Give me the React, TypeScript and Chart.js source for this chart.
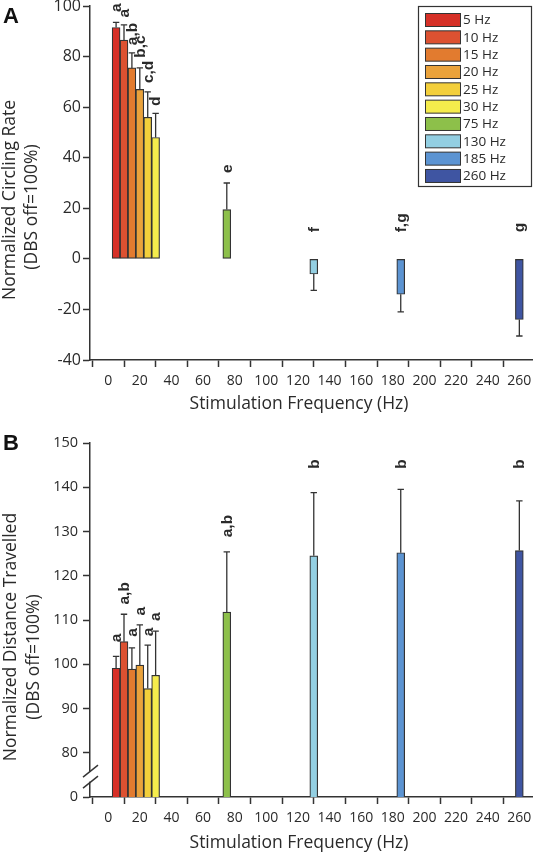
import React, { useEffect, useRef } from 'react';
import { Chart, registerables } from 'chart.js';

Chart.register(...registerables);

// ---------- data ----------
const frequencies = [5, 10, 15, 20, 25, 30, 75, 130, 185, 260];
const legendLabels = ['5 Hz', '10 Hz', '15 Hz', '20 Hz', '25 Hz', '30 Hz', '75 Hz', '130 Hz', '185 Hz', '260 Hz'];
const barColors = ['#d63027', '#dc5131', '#e27b2f', '#eaa23b', '#f3cf3b', '#f5ec4c', '#8dc04a', '#93cfe2', '#5c94d2', '#3f55a2'];

const circlingMean = [91.5, 86.5, 75.5, 67, 56, 48, 19.5, -6, -14, -24];
const circlingErrEnd = [93.5, 92.5, 81.5, 75.5, 66, 57.5, 30, -12.5, -21, -30.5];
const circlingLetters = ['a', 'a', 'a,b', 'b,c', 'c,d', 'd', 'e', 'f', 'f,g', 'g'];
const circlingLetterAt = [97.6, 95.5, 84.5, 79.5, 69.5, 60.5, 34, 10.5, 10.5, 10.5];

const distanceMean = [99.1, 105.1, 98.9, 99.8, 94.5, 97.5, 111.8, 124.5, 125.2, 125.7];
const distanceErrEnd = [101.8, 111.3, 103.7, 108.9, 104.3, 107.5, 125.4, 138.8, 139.5, 136.9];
const distanceLetters = ['a', 'a,b', 'a', 'a', 'a', 'a', 'a,b', 'b', 'b', 'b'];
const distanceLetterAt = [105, 113.5, 106.2, 111, 106.3, 109.8, 128.7, 144.2, 144.2, 144.2];

const xTickValues = [0, 20, 40, 60, 80, 100, 120, 140, 160, 180, 200, 220, 240, 260];
const circlingTickValues = [-40, -20, 0, 20, 40, 60, 80, 100];
const distanceTickValues = [70, 80, 90, 100, 110, 120, 130, 140, 150];
const distanceTickLabels = ['0', '80', '90', '100', '110', '120', '130', '140', '150'];

// ---------- styles ----------
const AXIS = '#333333';
const TEXT = '#2a2a2a';
const FONT = '"Open Sans", "DejaVu Sans", sans-serif';
const BOLD = '"Liberation Sans", Arial, sans-serif';
const W = 536;

type Spec = {
  top: number;
  height: number;
  means: number[];
  errEnd: number[];
  letters: string[];
  letterAt: number[];
  yMin: number;
  yMax: number;
  yTicks: number[];
  yTickLabels?: string[];
  yTickSize: number;
  yTickPad: number;
  yTitle: string[];
  yTitlePos: { x: number; y: number }[];
  xTitleY: number;
  panel: string;
  panelY: number;
  legend: boolean;
  axisBreak: boolean;
};

function makeDecor(spec: Spec) {
  return {
    id: 'decor' + spec.panel,
    afterDatasetsDraw(chart: any) {
      const ctx = chart.ctx as CanvasRenderingContext2D;
      const ys = chart.scales.y;
      const meta = chart.getDatasetMeta(0);
      ctx.save();
      meta.data.forEach((bar: any, i: number) => {
        const x = bar.x;
        const y0 = ys.getPixelForValue(spec.means[i]);
        const y1 = ys.getPixelForValue(spec.errEnd[i]);
        ctx.strokeStyle = AXIS;
        ctx.lineWidth = 1.3;
        ctx.beginPath();
        ctx.moveTo(x, y0);
        ctx.lineTo(x, y1);
        ctx.moveTo(x - 3.2, y1);
        ctx.lineTo(x + 3.2, y1);
        ctx.stroke();
        ctx.save();
        ctx.translate(x + 0.5, ys.getPixelForValue(spec.letterAt[i]));
        ctx.rotate(-Math.PI / 2);
        ctx.fillStyle = TEXT;
        ctx.font = 'bold 15.5px ' + BOLD;
        ctx.textAlign = 'left';
        ctx.textBaseline = 'middle';
        ctx.fillText(spec.letters[i], 0, 0);
        ctx.restore();
      });
      ctx.restore();
    },
    afterDraw(chart: any) {
      const ctx = chart.ctx as CanvasRenderingContext2D;
      const area = chart.chartArea;
      const ys = chart.scales.y;
      ctx.save();
      // axis break
      if (spec.axisBreak) {
        const yc = ys.getPixelForValue(74.6);
        const ax = area.left;
        ctx.fillStyle = '#ffffff';
        ctx.fillRect(ax - 3, yc - 5, 6, 10);
        ctx.strokeStyle = AXIS;
        ctx.lineWidth = 1.4;
        [-5.5, 5.5].forEach((d) => {
          ctx.beginPath();
          ctx.moveTo(ax - 7, yc + d + 6);
          ctx.lineTo(ax + 8, yc + d - 6);
          ctx.stroke();
        });
      }
      // y title
      ctx.fillStyle = TEXT;
      ctx.font = '17.5px ' + FONT;
      ctx.textAlign = 'center';
      ctx.textBaseline = 'middle';
      spec.yTitle.forEach((line, i) => {
        const p = spec.yTitlePos[i];
        ctx.save();
        ctx.translate(p.x, p.y);
        ctx.rotate(-Math.PI / 2);
        ctx.fillText(line, 0, 0);
        ctx.restore();
      });
      // x title
      ctx.textBaseline = 'alphabetic';
      ctx.fillText('Stimulation Frequency (Hz)', 299, spec.xTitleY);
      // panel letter
      ctx.font = 'bold 22px ' + BOLD;
      ctx.textAlign = 'left';
      ctx.fillStyle = '#111';
      ctx.fillText(spec.panel, 3, spec.panelY);
      // legend
      if (spec.legend) {
        const bx = 418.5, by = 12.5, bw = 113, bh = 180;
        ctx.strokeStyle = AXIS;
        ctx.lineWidth = 1.2;
        ctx.strokeRect(bx, by, bw, bh);
        ctx.font = '13.5px ' + FONT;
        ctx.textBaseline = 'middle';
        legendLabels.forEach((lab, i) => {
          const cy = 26 + i * 17.33;
          ctx.fillStyle = barColors[i];
          ctx.fillRect(425, cy - 6.5, 36, 13);
          ctx.strokeStyle = AXIS;
          ctx.lineWidth = 1;
          ctx.strokeRect(425.5, cy - 6.5, 35, 13);
          ctx.fillStyle = TEXT;
          ctx.fillText(lab, 463, cy + 0.5);
        });
      }
      ctx.restore();
    },
  };
}

function buildConfig(spec: Spec): any {
  const axisGrid = {
    display: true,
    drawOnChartArea: false,
    drawTicks: true,
    tickLength: 7,
    tickWidth: 1.5,
    tickColor: AXIS,
    color: AXIS,
  };
  const axisBorder = { display: true, color: AXIS, width: 1.5 };
  return {
    type: 'bar',
    data: {
      datasets: [
        {
          label: 'values',
          data: spec.means.map((v, i) => ({ x: frequencies[i], y: v })),
          backgroundColor: barColors,
          borderColor: AXIS,
          borderWidth: 1.2,
          borderSkipped: false,
          barPercentage: 1,
          categoryPercentage: 1,
        },
      ],
    },
    options: {
      responsive: false,
      maintainAspectRatio: false,
      animation: false,
      devicePixelRatio: 1,
      layout: { padding: { top: 12, right: 4, bottom: 0, left: 0 } },
      plugins: { legend: { display: false }, tooltip: { enabled: false }, title: { display: false } },
      scales: {
        x: {
          type: 'linear',
          min: -11.5,
          max: 268,
          offset: false,
          afterBuildTicks: (s: any) => {
            s.ticks = xTickValues.map((v) => ({ value: v }));
          },
          afterFit: (s: any) => {
            s.height = 55;
            s.paddingLeft = 0;
            s.paddingRight = 0;
          },
          grid: axisGrid,
          border: axisBorder,
          ticks: { color: TEXT, font: { family: FONT, size: 14 }, padding: 6, maxRotation: 0, autoSkip: false },
        },
        y: {
          type: 'linear',
          min: spec.yMin,
          max: spec.yMax,
          afterBuildTicks: (s: any) => {
            s.ticks = spec.yTicks.map((v) => ({ value: v }));
          },
          afterFit: (s: any) => {
            s.width = 90;
            s.paddingTop = 0;
            s.paddingBottom = 0;
          },
          grid: axisGrid,
          border: axisBorder,
          ticks: {
            color: TEXT,
            font: { family: FONT, size: spec.yTickSize },
            padding: spec.yTickPad,
            autoSkip: false,
            callback: (v: any, i: number) => (spec.yTickLabels ? spec.yTickLabels[i] : String(v)),
          },
        },
      },
    },
    plugins: [makeDecor(spec)],
  };
}

const specA: Spec = {
  top: -6,
  height: 421,
  means: circlingMean,
  errEnd: circlingErrEnd,
  letters: circlingLetters,
  letterAt: circlingLetterAt,
  yMin: -40,
  yMax: 100,
  yTicks: circlingTickValues,
  yTickSize: 16,
  yTickPad: 2,
  yTitle: ['Normalized Circling Rate', '(DBS off=100%)'],
  yTitlePos: [
    { x: 10, y: 206 },
    { x: 32, y: 213 },
  ],
  xTitleY: 415,
  panel: 'A',
  panelY: 29,
  legend: true,
  axisBreak: false,
};

const specB: Spec = {
  top: 431,
  height: 421,
  means: distanceMean,
  errEnd: distanceErrEnd,
  letters: distanceLetters,
  letterAt: distanceLetterAt,
  yMin: 70,
  yMax: 150,
  yTicks: distanceTickValues,
  yTickLabels: distanceTickLabels,
  yTickSize: 14.5,
  yTickPad: 5,
  yTitle: ['Normalized Distance Travelled', '(DBS off=100%)'],
  yTitlePos: [
    { x: 11, y: 206 },
    { x: 34, y: 226 },
  ],
  xTitleY: 417,
  panel: 'B',
  panelY: 19,
  legend: false,
  axisBreak: true,
};

function Panel({ spec }: { spec: Spec }) {
  const ref = useRef<HTMLCanvasElement>(null);
  useEffect(() => {
    if (!ref.current) return;
    const chart = new Chart(ref.current, buildConfig(spec));
    return () => chart.destroy();
  }, [spec]);
  return (
    <canvas
      ref={ref}
      width={W}
      height={spec.height}
      style={{ position: 'absolute', left: 0, top: spec.top, width: W, height: spec.height, display: 'block' }}
    />
  );
}

export default function App() {
  return (
    <div style={{ position: 'absolute', left: 0, top: 0, width: W, height: 852, overflow: 'hidden', background: '#fff' }}>
      <Panel spec={specA} />
      <Panel spec={specB} />
    </div>
  );
}
